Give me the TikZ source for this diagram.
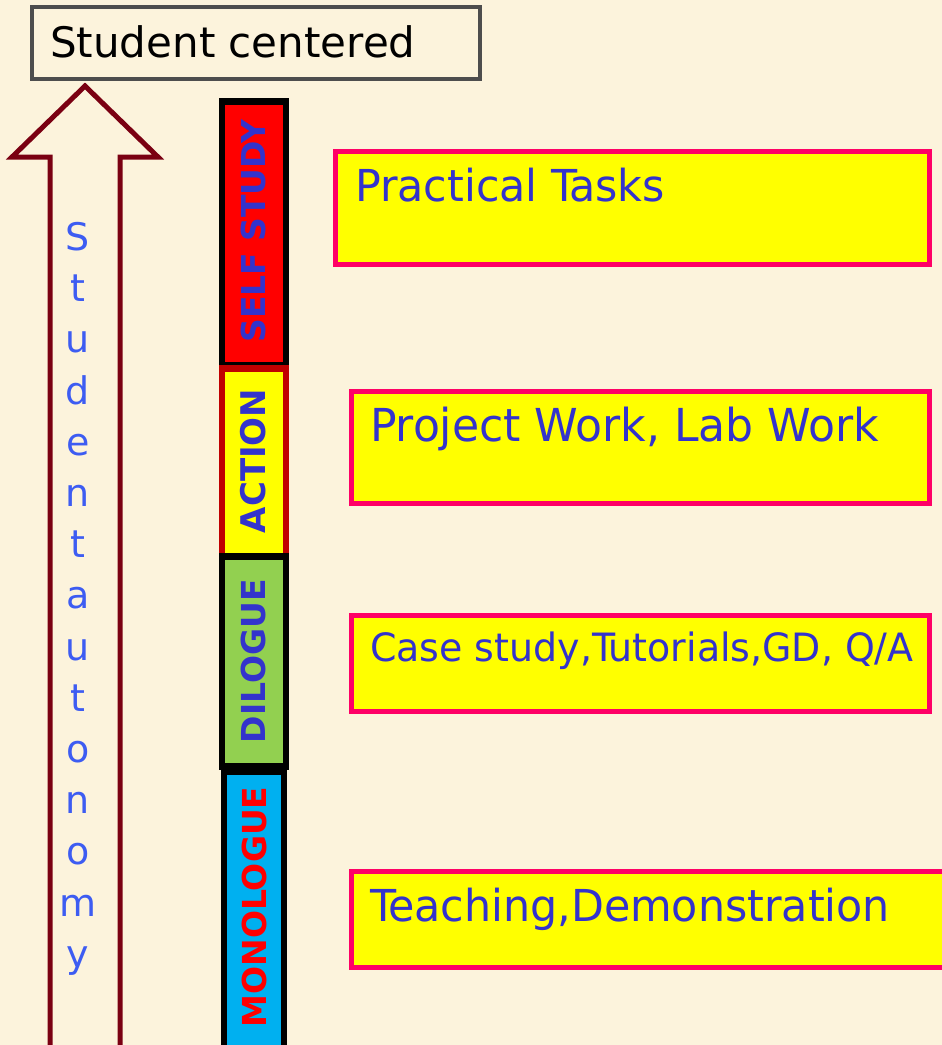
\documentclass[tikz,border=0pt]{standalone}
\usepackage{fontspec}
\setmainfont{DejaVu Sans}
\newfontfamily\condfont[FakeStretch=1.08]{DejaVu Sans Condensed}
\definecolor{bgc}{HTML}{FCF3DC}
\definecolor{boxgray}{HTML}{4D4D4D}
\definecolor{arrowred}{HTML}{7A0012}
\definecolor{autoblue}{HTML}{3D5CF2}
\definecolor{barblue}{HTML}{3333CC}
\definecolor{pinkline}{HTML}{FF0066}
\definecolor{actred}{HTML}{C00000}
\definecolor{dgreen}{HTML}{92D050}
\definecolor{mblue}{HTML}{00B0F0}
\definecolor{yel}{HTML}{FFFF00}
\tikzset{
  barbox/.style={draw=black, line width=6.5pt, inner sep=0pt, minimum width=64pt},
  bartext/.style={rotate=90, font=\bfseries\fontsize{33}{33}\selectfont, inner sep=0pt},
  actbox/.style={draw=pinkline, fill=yel, line width=5pt, inner sep=0pt, anchor=north west},
  acttext/.style={anchor=base west, inner sep=0pt, text=barblue, font=\condfont\fontsize{44}{44}\selectfont}
}
\begin{document}
\begin{tikzpicture}[x=1pt,y=-1pt]
\fill[bgc] (0,0) rectangle (942,1045);
\useasboundingbox (0,0) rectangle (942,1045);
% top box
\node[draw=boxgray, line width=4pt, minimum width=448pt, minimum height=72pt, anchor=north west, inner sep=0pt] (sc) at (30,5) {};
\node[anchor=base west, inner sep=0pt, font=\fontsize{42}{42}\selectfont] (sct) at (50,57) {Student centered};
% arrow
\draw[arrowred, line width=5pt, line join=miter] (85,86) -- (158,157) -- (120,157) -- (120,1050) -- (50,1050) -- (50,157) -- (12,157) -- cycle;
\node[anchor=north, inner sep=0pt, align=center, text=autoblue, font=\fontsize{38}{51.2}\selectfont] (auto) at (78,222)
{S\\t\\u\\d\\e\\n\\t\\a\\u\\t\\o\\n\\o\\m\\y};
% bars
\node[barbox, fill=red, minimum height=264pt, anchor=north] (ss) at (254,98) {};
\node[barbox, fill=yel, draw=actred, minimum height=188pt, anchor=north] (ac) at (254,365) {};
\node[barbox, fill=dgreen, minimum height=210pt, anchor=north] (di) at (254,553) {};
\node[barbox, fill=mblue, minimum width=60pt, minimum height=300pt, anchor=north] (mo) at (254,768) {};
\node[bartext, text=barblue] (sst) at (253,231) {SELF STUDY};
\node[bartext, text=barblue, font=\bfseries\fontsize{34}{34}\selectfont] (act) at (253,461) {ACTION};
\node[bartext, text=barblue] (dit) at (253,661) {DILOGUE};
\node[bartext, text=red] (mot) at (254,907) {MONOLOGUE};
% right boxes
\node[actbox, minimum width=594pt, minimum height=113pt] (b1) at (333,149) {};
\node[acttext] (t1) at (355,201) {Practical Tasks};
\node[actbox, minimum width=578pt, minimum height=112pt] (b2) at (349,389) {};
\node[acttext, font=\condfont\fontsize{45.4}{45.4}\selectfont] (t2) at (370,441) {Project Work, Lab Work};
\node[actbox, minimum width=578pt, minimum height=96pt] (b3) at (349,613) {};
\node[acttext, font=\condfont\fontsize{39}{39}\selectfont] (t3) at (370,661) {Case study,Tutorials,GD, Q/A};
\node[actbox, minimum width=600pt, minimum height=96pt] (b4) at (349,869) {};
\node[acttext] (t4) at (370,921) {Teaching,Demonstration};
\end{tikzpicture}
\end{document}
